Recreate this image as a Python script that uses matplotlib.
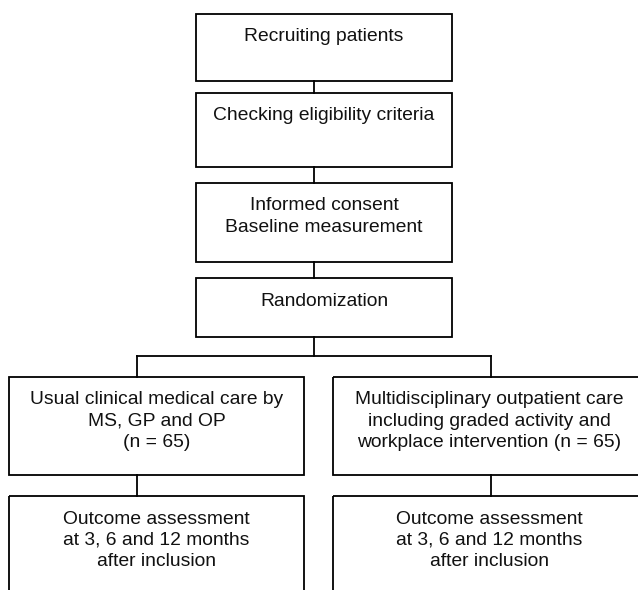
import matplotlib.pyplot as plt
from matplotlib.patches import Rectangle

plt.rcParams['font.family'] = ['Liberation Sans', 'DejaVu Sans']

# flow chart content
main_steps = ['Recruiting patients',
              'Checking eligibility criteria',
              'Informed consent\nBaseline measurement',
              'Randomization']
arm_labels = ['Usual clinical medical care by\nMS, GP and OP\n(n = 65)',
              'Multidisciplinary outpatient care\nincluding graded activity and\nworkplace intervention (n = 65)']
followup_labels = ['Outcome assessment\nat 3, 6 and 12 months\nafter inclusion',
                   'Outcome assessment\nat 3, 6 and 12 months\nafter inclusion']

# layout in pixels (x0, x1, y_top, y_bottom)
main_boxes = [(196, 452, 13.5, 81), (196, 452, 93, 167),
              (196, 452, 183, 262), (196, 452, 278, 337)]
arm_boxes = [(9, 304, 377, 475), (333, 645, 377, 475)]
follow_boxes = [(9, 304, 496, 600), (333, 645, 496, 600)]
stem_x = 314
split_y = 356
branch_x = [137, 491]

fig = plt.figure(figsize=(6.38, 5.90), dpi=100)
ax = fig.add_axes([0, 0, 1, 1])
ax.set_xlim(0, 638)
ax.set_ylim(590, 0)
ax.axis('off')

lw = 1.3
fs = 13.9


def box(b, label):
    x0, x1, y0, y1 = b
    ax.add_patch(Rectangle((x0, y0), x1 - x0, y1 - y0, fill=False,
                           edgecolor='black', lw=lw))
    ax.text((x0 + x1) / 2, y0 + 14.5, label, ha='center', va='top',
            fontsize=fs, linespacing=1.33, color='#111111')


for b, lab in zip(main_boxes, main_steps):
    box(b, lab)
for b, lab in zip(arm_boxes, arm_labels):
    box(b, lab)
for b, lab in zip(follow_boxes, followup_labels):
    box(b, lab)

# connectors between main steps
for a, b in zip(main_boxes[:-1], main_boxes[1:]):
    ax.plot([stem_x, stem_x], [a[3], b[2]], color='black', lw=lw)
ax.plot([stem_x, stem_x], [main_boxes[-1][3], split_y], color='black', lw=lw)
ax.plot([branch_x[0], branch_x[1]], [split_y, split_y], color='black', lw=lw)
for bx, ab, fb in zip(branch_x, arm_boxes, follow_boxes):
    ax.plot([bx, bx], [split_y, ab[2]], color='black', lw=lw)
    ax.plot([bx, bx], [ab[3], fb[2]], color='black', lw=lw)

fig.savefig('out.png', dpi=100)
